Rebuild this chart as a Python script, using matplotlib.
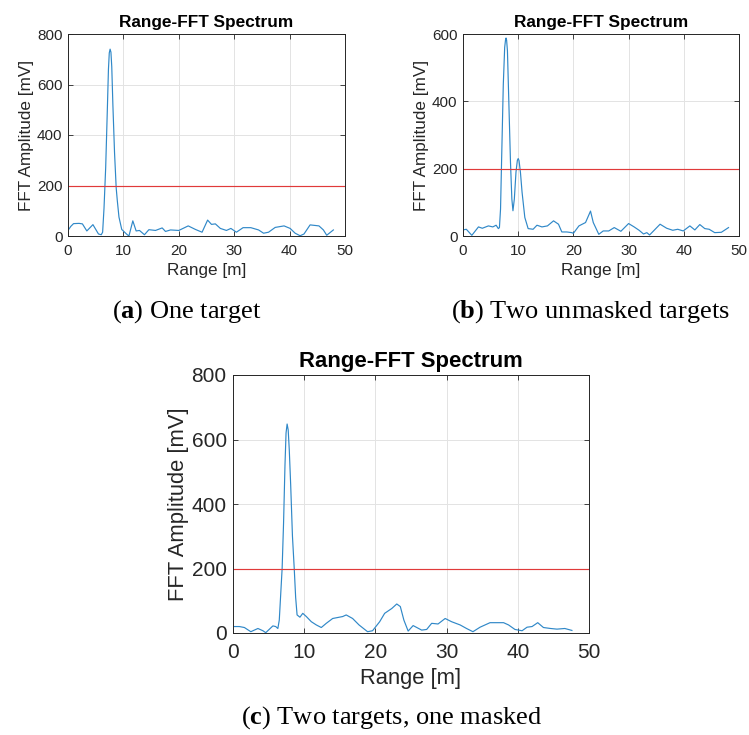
import matplotlib
matplotlib.use("Agg")
import matplotlib.pyplot as plt

# ---------------- data ----------------
range_a = [0, 0.5, 1.0, 2.0, 2.6, 3.4, 4.5, 5.5, 6.0, 6.25, 6.5, 6.8, 7.1, 7.3, 7.45, 7.6, 7.75, 7.9, 8.1, 8.4, 8.7, 8.9,
           9.2, 9.7, 10.6, 11.0, 11.7, 12.3, 12.9, 13.8, 14.6, 15.8, 17.0, 17.6, 18.5, 20.0, 21.7, 23.0, 24.2, 25.2, 25.9, 26.6,
           27.5, 28.6, 29.4, 30.4, 31.6, 33.0, 34.4, 35.3, 36.2, 37.4, 39.0, 40.1, 41.0, 41.9, 42.6, 43.7, 45.3, 46.1, 46.7, 47.9]
amp_a = [22, 38, 49, 50, 48, 20, 45, 8, 5, 15, 110, 270, 500, 660, 725, 740, 728, 670, 520, 330, 190, 140,
         75, 26, 7, 0, 60, 20, 22, 5, 25, 22, 32, 18, 24, 22, 40, 26, 15, 63, 46, 48,
         30, 22, 30, 15, 33, 33, 24, 11, 15, 34, 40, 30, 11, 1, 8, 44, 40, 24, 3, 24]

range_b = [0, 0.6, 1.6, 2.8, 3.5, 4.6, 5.4, 6.0, 6.4, 6.6, 6.8, 7.0, 7.3, 7.55, 7.7, 7.8, 7.9, 8.05, 8.3, 8.6, 8.85, 9.05,
           9.3, 9.6, 9.85, 10.0, 10.15, 10.4, 10.7, 11.2, 11.8, 12.7, 13.4, 14.3, 15.3, 16.4, 17.3, 17.9, 18.8, 19.7, 20.0, 21.0, 22.2, 23.1,
           23.6, 24.6, 25.4, 26.4, 27.4, 28.6, 30.0, 31.0, 31.9, 32.7, 33.3, 33.8, 35.7, 36.9, 38.0, 38.9, 39.9, 41.1, 42.0, 42.9,
           43.8, 44.6, 45.6, 46.8, 48.1]
amp_b = [18, 20, 2, 27, 23, 30, 27, 32, 22, 25, 80, 230, 450, 560, 582, 588, 582, 550, 400, 220, 110, 75,
         110, 190, 225, 230, 224, 190, 130, 55, 22, 20, 32, 27, 30, 45, 35, 12, 12, 10, 8, 30, 40, 74,
         40, 5, 15, 15, 25, 14, 37, 27, 17, 6, 10, 3, 35, 23, 17, 20, 15, 30, 18, 34,
         22, 20, 10, 11, 25]

range_c = [0, 0.9, 1.6, 2.5, 3.5, 4.2, 4.6, 5.6, 6.0, 6.3, 6.5, 6.7, 6.9, 7.1, 7.3, 7.45, 7.6, 7.75, 7.9, 8.1, 8.35, 8.6,
           8.8, 9.0, 9.4, 9.8, 10.3, 11.0, 11.7, 12.4, 13.1, 14.0, 15.4, 15.9, 16.8, 17.7, 18.9, 19.6, 20.6, 21.3, 22.3, 23.0,
           23.5, 24.0, 24.6, 25.3, 26.5, 27.2, 27.9, 28.8, 29.8, 30.7, 31.9, 32.8, 33.7, 34.7, 36.1, 38.0, 38.7, 39.6, 40.6, 41.3,
           42.0, 42.8, 43.6, 44.6, 45.5, 46.6, 47.6]
amp_c = [20, 20, 17, 4, 14, 7, 1, 22, 20, 14, 40, 120, 200, 340, 520, 620, 648, 630, 570, 460, 300, 200,
         110, 56, 49, 61, 51, 35, 25, 17, 30, 45, 51, 56, 45, 25, 4, 7, 35, 61, 76, 90,
         82, 40, 6, 23, 9, 11, 30, 28, 45, 35, 25, 14, 4, 18, 32, 32, 25, 11, 7, 18,
         20, 32, 17, 14, 12, 14, 8]

threshold = 200
x_ticks = [0, 10, 20, 30, 40, 50]
y_ticks_800 = [0, 200, 400, 600, 800]
y_ticks_600 = [0, 200, 400, 600]
title = "Range-FFT Spectrum"
xlabel = "Range [m]"
ylabel = "FFT Amplitude [mV]"
captions = [r"($\mathbf{a}$) One target", r"($\mathbf{b}$) Two unmasked targets",
            r"($\mathbf{c}$) Two targets, one masked"]

# ---------------- style ----------------
plt.rcParams['font.family'] = ['Liberation Sans', 'DejaVu Sans']
plt.rcParams['mathtext.fontset'] = 'custom'
plt.rcParams['mathtext.rm'] = 'Liberation Serif'
plt.rcParams['mathtext.bf'] = 'Liberation Serif:bold'

W, H = 749, 735
fig = plt.figure(figsize=(W / 100, H / 100), dpi=100)
TXT = '#262626'
BLUE = '#3088c8'
RED = '#e03a3a'


def make_axes(px_left, px_top, px_right, px_bottom):
    return fig.add_axes([px_left / W, 1 - px_bottom / H, (px_right - px_left) / W, (px_bottom - px_top) / H])


def style(ax, r, a, yticks, ymax, tick_fs, lab_fs, tit_fs, xpad, ypad, tpad, xlpad, ylpad):
    ax.plot(r, a, color=BLUE, lw=0.85)
    ax.axhline(threshold, color=RED, lw=0.85)
    ax.set_xlim(0, 50)
    ax.set_ylim(0, ymax)
    ax.set_xticks(x_ticks)
    ax.set_yticks(yticks)
    ax.grid(True, color='#e3e3e3', lw=0.7)
    ax.set_axisbelow(True)
    for s in ax.spines.values():
        s.set_color(TXT)
        s.set_linewidth(0.7)
    ax.tick_params(axis='both', direction='in', top=True, right=True, length=3.5, width=0.6,
                   color=TXT, labelcolor=TXT, labelsize=tick_fs)
    ax.tick_params(axis='x', pad=xpad)
    ax.tick_params(axis='y', pad=ypad)
    ax.set_title(title, fontsize=tit_fs, fontweight='bold', color='black', pad=tpad)
    ax.set_xlabel(xlabel, fontsize=lab_fs, color=TXT, labelpad=xlpad)
    ax.set_ylabel(ylabel, fontsize=lab_fs, color=TXT, labelpad=ylpad)


ax_a = make_axes(68, 34, 345, 236)
style(ax_a, range_a, amp_a, y_ticks_800, 800, 11, 12.3, 12.4, 6, 4, 5, 3, 2)

ax_b = make_axes(463, 34, 739, 236)
style(ax_b, range_b, amp_b, y_ticks_600, 600, 11, 12.3, 12.4, 6, 4, 5, 3, 2)

ax_c = make_axes(233, 375, 589, 633)
style(ax_c, range_c, amp_c, y_ticks_800, 800, 15, 15.8, 15.9, 7.5, 4.5, 6, 4, 2)

cap_fs = 19
fig.text(187 / W, 1 - 312 / H, captions[0], fontsize=cap_fs, family='Liberation Serif',
         ha='center', va='center', color='black')
fig.text(590 / W, 1 - 312 / H, captions[1], fontsize=cap_fs, family='Liberation Serif',
         ha='center', va='center', color='black')
fig.text(392 / W, 1 - 718 / H, captions[2], fontsize=cap_fs, family='Liberation Serif',
         ha='center', va='center', color='black')

fig.savefig("out.png", dpi=100)
